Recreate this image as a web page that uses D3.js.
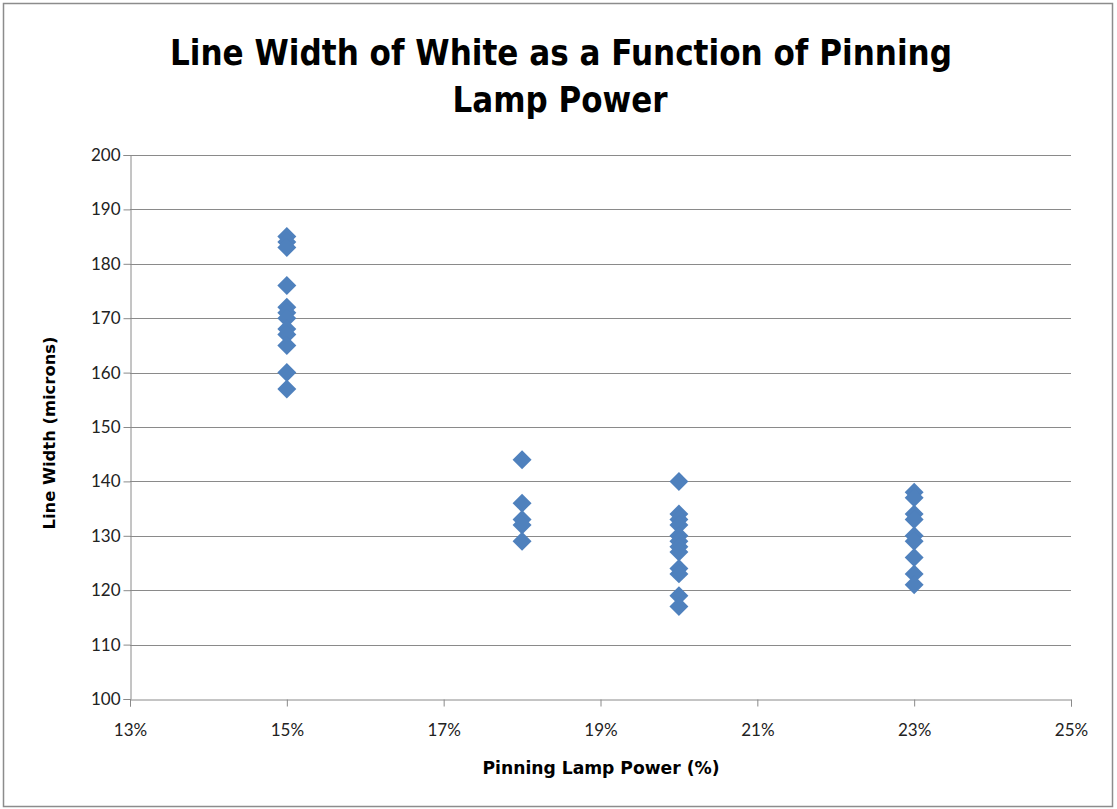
<!DOCTYPE html>
<html>
<head>
<meta charset="utf-8">
<script src="https://cdn.jsdelivr.net/npm/d3@7"></script>
<style>
  html, body { margin: 0; padding: 0; background: #fff; }
  svg { display: block; }
</style>
</head>
<body>
<script>
// ---- data ----
const power15 = [185, 184, 183, 176, 172, 171, 170, 168, 167, 165, 160, 157];
const power18 = [144, 136, 133, 132, 129];
const power20 = [140, 134, 133, 132, 130, 129, 128, 127, 124, 123, 119, 117];
const power23 = [138, 137, 134, 133, 130, 129, 126, 123, 121];
const powerLevels = [0.15, 0.18, 0.20, 0.23];
const xTicks = [0.13, 0.15, 0.17, 0.19, 0.21, 0.23, 0.25];
const yTicks = [100, 110, 120, 130, 140, 150, 160, 170, 180, 190, 200];
const titleLines = ["Line Width of White as a Function of Pinning", "Lamp Power"];
const xTitle = "Pinning Lamp Power (%)";
const yTitle = "Line Width (microns)";

const W = 1117, H = 809;
const L = 130, R = 1071, T = 155, B = 699;

const svg = d3.select("body").append("svg").attr("width", W).attr("height", H);

// outer border
svg.append("rect").attr("x", 3.5).attr("y", 3.5).attr("width", 1109).attr("height", 803)
  .attr("fill", "#fff").attr("stroke", "#8c8c8c").attr("stroke-width", 1.5);

const x = d3.scaleLinear().domain([0.13, 0.25]).range([L, R]);
const y = d3.scaleLinear().domain([100, 200]).range([B, T]);

const tickFont = "Lato, 'Open Sans', sans-serif";
const titleFont = "'Liberation Sans Narrow', 'DejaVu Sans Condensed', Lato, sans-serif";

// gridlines
svg.append("g").selectAll("line").data(yTicks.filter(d => d > 100)).join("line")
  .attr("x1", L).attr("x2", R)
  .attr("y1", d => Math.round(y(d)) + 0.5).attr("y2", d => Math.round(y(d)) + 0.5)
  .attr("stroke", "#8a8a8a").attr("stroke-width", 1);

// y axis
const yAxis = svg.append("g").attr("transform", `translate(${L + 0.5},0)`)
  .call(d3.axisLeft(y).tickValues(yTicks).tickSize(7).tickPadding(3).tickFormat(d3.format("d")));
yAxis.select(".domain").attr("stroke", "#8a8a8a");
yAxis.selectAll(".tick line").attr("stroke", "#8a8a8a");
yAxis.selectAll(".tick text").attr("font-family", tickFont).attr("font-size", 17).attr("fill", "#222");

// x axis
const xAxis = svg.append("g").attr("transform", `translate(0,${Math.round(B) + 0.5})`)
  .call(d3.axisBottom(x).tickValues(xTicks).tickSize(7).tickPadding(17).tickFormat(d3.format(".0%")));
xAxis.select(".domain").attr("stroke", "#8a8a8a");
xAxis.selectAll(".tick line").attr("stroke", "#8a8a8a");
xAxis.selectAll(".tick text").attr("font-family", tickFont).attr("font-size", 17).attr("fill", "#222");

// points
const series = [power15, power18, power20, power23];
const pts = [];
series.forEach((vals, i) => vals.forEach(v => pts.push({ x: powerLevels[i], y: v })));
const diamond = d3.symbol().type(d3.symbolSquare).size(180);
svg.append("g").selectAll("path").data(pts).join("path")
  .attr("d", diamond)
  .attr("transform", d => `translate(${x(d.x)},${y(d.y)}) rotate(45)`)
  .attr("fill", "#4f81bd");

// title
svg.append("text").attr("x", 561).attr("y", 65).attr("text-anchor", "middle")
  .attr("font-family", titleFont).attr("font-weight", "bold").attr("font-size", 36).attr("fill", "#000")
  .attr("textLength", 782).attr("lengthAdjust", "spacingAndGlyphs")
  .text(titleLines[0]);
svg.append("text").attr("x", 560).attr("y", 112).attr("text-anchor", "middle")
  .attr("font-family", titleFont).attr("font-weight", "bold").attr("font-size", 36).attr("fill", "#000")
  .attr("textLength", 215).attr("lengthAdjust", "spacingAndGlyphs")
  .text(titleLines[1]);

// axis titles
svg.append("text").attr("x", 601).attr("y", 774).attr("text-anchor", "middle")
  .attr("font-family", titleFont).attr("font-weight", "bold").attr("font-size", 17).attr("fill", "#000")
  .attr("textLength", 237).attr("lengthAdjust", "spacingAndGlyphs")
  .text(xTitle);
svg.append("text").attr("transform", "translate(55,433) rotate(-90)").attr("text-anchor", "middle")
  .attr("font-family", titleFont).attr("font-weight", "bold").attr("font-size", 16).attr("fill", "#000")
  .attr("textLength", 193).attr("lengthAdjust", "spacingAndGlyphs")
  .text(yTitle);
</script>
</body>
</html>
